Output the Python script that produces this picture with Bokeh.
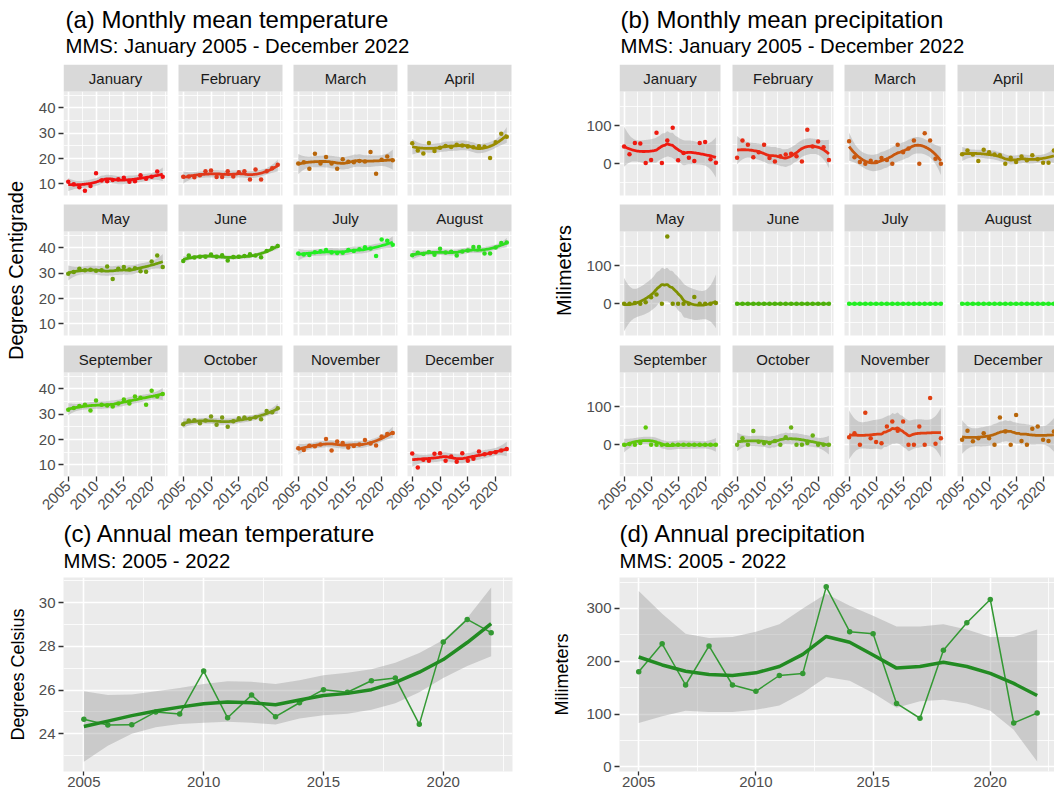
import math
import numpy as np
from bokeh.plotting import figure
from bokeh.models import Range1d, FixedTicker
from bokeh.layouts import row, column
from bokeh.core.properties import value
from bokeh.embed import file_html
from bokeh.resources import INLINE

FONT = "Liberation Sans"

# ---------------- data ----------------
years = list(range(2005, 2023))
months = ["January", "February", "March", "April", "May", "June",
          "July", "August", "September", "October", "November", "December"]

temp_january = [10.8, 9.8, 8.7, 7.3, 9.2, 14.2, 11.3, 11.0, 11.5, 11.8, 12.4, 10.8, 11.0, 13.4, 12.0, 12.8, 14.9, 12.8]
temp_february = [12.8, 12.9, 12.6, 13.4, 15.0, 15.3, 12.7, 12.7, 15.0, 12.9, 14.6, 15.0, 11.7, 15.7, 11.7, 15.0, 16.2, 17.6]
temp_march = [18.0, 18.5, 16.0, 21.9, 18.0, 20.6, 18.0, 16.0, 19.7, 18.7, 18.5, 19.0, 18.8, 22.6, 14.0, 19.5, 20.8, 19.3]
temp_april = [26.0, 23.2, 22.0, 26.1, 23.0, 24.3, 25.0, 24.6, 25.5, 25.2, 24.8, 24.5, 24.9, 24.7, 20.2, 26.4, 29.8, 28.6]
temp_may = [29.8, 30.5, 31.8, 31.2, 31.4, 31.0, 31.2, 32.7, 27.7, 31.8, 32.5, 31.5, 32.0, 30.8, 30.6, 34.6, 37.0, 32.5]
temp_june = [34.8, 37.0, 36.2, 36.5, 36.5, 37.4, 36.5, 37.1, 35.0, 36.4, 36.5, 36.8, 37.5, 37.0, 36.3, 38.8, 40.0, 40.8]
temp_july = [37.8, 37.4, 37.2, 38.3, 38.7, 39.2, 38.2, 38.0, 38.1, 39.2, 38.8, 39.5, 40.3, 39.8, 36.8, 43.3, 42.8, 41.3]
temp_august = [37.1, 38.1, 37.6, 38.4, 37.3, 39.7, 38.2, 38.5, 37.0, 38.6, 39.0, 40.4, 40.4, 37.8, 37.8, 40.2, 42.0, 42.2]
temp_september = [31.8, 32.5, 33.3, 33.8, 31.5, 35.4, 33.8, 33.5, 33.1, 34.2, 35.8, 34.2, 37.0, 36.5, 33.8, 39.3, 37.0, 38.0]
temp_october = [26.0, 27.5, 27.6, 26.4, 27.5, 29.1, 25.9, 28.7, 25.1, 27.2, 28.4, 28.7, 28.2, 28.8, 28.0, 31.3, 30.8, 32.4]
temp_november = [16.6, 15.9, 17.6, 17.4, 18.0, 20.2, 15.7, 19.2, 18.6, 16.9, 17.5, 18.0, 19.8, 18.4, 17.7, 21.2, 22.2, 22.6]
temp_december = [14.5, 9.0, 12.0, 11.6, 14.4, 14.6, 11.6, 13.3, 11.2, 14.6, 11.6, 12.4, 15.3, 14.2, 14.6, 15.0, 15.7, 16.3]

precip_january = [45, 25, 54, 53, 2, 10, 81, 2, 61, 94, 9, 28, 16, 7, 54, 57, 12, 3]
precip_february = [16, 61, 50, 17, 30, 50, 15, 6, 20, 24, 26, 20, 6, 89, 45, 58, 43, 10]
precip_march = [59, 17, 5, 0, 8, 5, 15, 10, 0, 50, 30, 40, 61, 0, 80, 61, 13, 0]
precip_april = [25, 35, 24, 7, 37, 30, 24, 22, 0, 16, 5, 19, 9, 22, 12, 3, 3, 35]
precip_may = [0, 0, 2, 0, 4, 17, 24, 0, 176, 0, 0, 0, 0, 18, 0, 0, 0, 2]
precip_june = [0] * 18
precip_july = [0] * 18
precip_august = [0] * 18
precip_september = [0, 2, 0, 5, 45, 0, 0, 0, 0, 0, 0, 0, 0, 0, 0, 0, 0, 0]
precip_october = [0, 17, 0, 36, 8, 4, 5, 10, 0, 20, 45, 0, 0, 5, 24, 0, 0, 0]
precip_november = [20, 30, 0, 84, 17, 7, 4, 48, 61, 37, 61, 0, 0, 48, 0, 122, 3, 17]
precip_december = [13, 37, 9, 17, 30, 17, 0, 71, 35, 0, 78, 10, 0, 42, 48, 13, 10, 35]

annual_temp = [24.66, 24.40, 24.41, 25.00, 24.90, 26.87, 24.73, 25.77, 24.78, 25.42,
               26.02, 25.90, 26.43, 26.56, 24.43, 28.21, 29.24, 28.63]
annual_temp_smooth = [24.33, 24.58, 24.83, 25.04, 25.22, 25.37, 25.45, 25.42, 25.33, 25.55,
                      25.75, 25.85, 26.02, 26.35, 26.82, 27.40, 28.18, 29.05]
annual_temp_lower = [22.72, 23.45, 24.00, 24.30, 24.45, 24.50, 24.55, 24.50, 24.42, 24.70,
                     24.85, 24.92, 25.10, 25.40, 25.90, 26.55, 27.10, 27.55]
annual_temp_upper = [25.95, 25.78, 25.80, 25.95, 26.10, 26.28, 26.40, 26.38, 26.28, 26.45,
                     26.68, 26.80, 26.95, 27.25, 27.70, 28.30, 29.30, 30.70]

annual_precip = [180, 233, 155, 229, 155, 143, 173, 177, 341, 256, 252, 120, 92, 221, 273, 317, 83, 102]
annual_precip_smooth = [208, 193, 181, 175, 173, 178, 190, 213, 247, 236, 212, 187, 190, 198, 190, 177, 158, 135]
annual_precip_lower = [83, 96, 106, 104, 104, 108, 116, 140, 170, 163, 140, 112, 124, 127, 120, 106, 70, 10]
annual_precip_upper = [333, 290, 252, 244, 246, 256, 270, 300, 328, 305, 286, 266, 266, 270, 260, 246, 246, 260]

temp_series = [temp_january, temp_february, temp_march, temp_april, temp_may, temp_june,
               temp_july, temp_august, temp_september, temp_october, temp_november, temp_december]
precip_series = [precip_january, precip_february, precip_march, precip_april, precip_may, precip_june,
                 precip_july, precip_august, precip_september, precip_october, precip_november, precip_december]

temp_colors = ["#F01010", "#E0381A", "#B8660A", "#9A8C00", "#6E9E0A", "#4CB00A",
               "#22EE22", "#30DD20", "#55C80A", "#7C9A14", "#D05A14", "#F01A10"]
precip_colors = ["#EE1A10", "#E82A14", "#C8580F", "#9A8A00", "#7E9000", "#4CB00A",
                 "#22EE22", "#22EE22", "#5EC80A", "#6AB014", "#E04012", "#B8660A"]


# ---------------- loess smoother (like geom_smooth) ----------------
def loess(x, y, xs, span=0.75):
    x = np.asarray(x, float)
    y = np.asarray(y, float)
    n = len(x)
    q = max(int(np.floor(n * span)), 4)

    def row_l(x0):
        d = np.abs(x - x0)
        h = max(np.sort(d)[q - 1], 1e-9)
        w = np.clip(1 - (d / h) ** 3, 0, None) ** 3
        X = np.vstack([np.ones(n), x - x0, (x - x0) ** 2]).T
        A = X.T @ (w[:, None] * X)
        B = np.linalg.pinv(A) @ (X.T * w)
        return B[0]

    L = np.array([row_l(xi) for xi in x])
    fitted = L @ y
    M = (np.eye(n) - L).T @ (np.eye(n) - L)
    d1 = np.trace(M)
    d2 = np.trace(M @ M)
    sigma = math.sqrt(max(np.sum((y - fitted) ** 2), 0) / d1)
    df = d1 ** 2 / d2
    z = 1.959964
    t = z + (z ** 3 + z) / (4 * df) + (5 * z ** 5 + 16 * z ** 3 + 3 * z) / (96 * df ** 2)
    Ls = np.array([row_l(x0) for x0 in xs])
    fit = Ls @ y
    se = sigma * np.sqrt(np.sum(Ls ** 2, axis=1))
    return fit, fit - t * se, fit + t * se


XT_MAJOR = [2005, 2010, 2015, 2020]
XT_MINOR = [2002.5, 2007.5, 2012.5, 2017.5, 2022.5]
X_LO, X_HI = 2004.15, 2022.85


def style_grid(p, xticker, yticker):
    p.xgrid.ticker = xticker
    p.ygrid.ticker = yticker
    for g in (p.xgrid, p.ygrid):
        g.grid_line_color = "white"
        g.grid_line_width = 1.6
        g.minor_grid_line_color = "white"
        g.minor_grid_line_width = 0.8


def style_axis(ax, size="15px"):
    ax.axis_line_color = None
    ax.major_tick_line_color = "#333333"
    ax.major_tick_line_width = 1.3
    ax.major_tick_out = 5
    ax.major_tick_in = 0
    ax.minor_tick_line_color = None
    ax.major_label_text_font = FONT
    ax.major_label_text_font_size = size
    ax.major_label_text_color = "#4D4D4D"
    ax.major_label_standoff = 3
    ax.axis_label_text_font = FONT
    ax.axis_label_text_font_style = "normal"
    ax.axis_label_text_color = "black"


def facet_block(series, colors, width, left, right, col_left_px, panel_w, yr,
                yt_major, yt_minor, ylabel, label_standoff):
    """Faceted small multiples (3 rows x 4 columns) in one plot, facet_wrap style."""
    frame_w = width - left - right
    frame_h = 412
    strip_h, panel_h = 27, 104
    row_top_px = [0, 140, 281]
    upp_x = (X_HI - X_LO) / panel_w
    y0, y1 = yr
    upp_y = (y1 - y0) / panel_h
    xoff = [lp * upp_x for lp in col_left_px]
    yoff = [(frame_h - t - strip_h - panel_h) * upp_y for t in row_top_px]

    p = figure(width=width, height=frame_h + 44,
               x_range=Range1d(X_LO, X_LO + frame_w * upp_x),
               y_range=Range1d(y0, y0 + frame_h * upp_y),
               output_backend="svg", toolbar_location=None,
               min_border_left=left, min_border_right=right,
               min_border_top=0, min_border_bottom=44,
               background_fill_color="white", border_fill_color="white",
               outline_line_color=None)

    xt_major = [yy + xoff[c] for c in range(4) for yy in XT_MAJOR]
    xt_minor = [yy + xoff[c] for c in range(4) for yy in XT_MINOR]
    x_labels = {t: str(yy) for c in range(4) for yy, t in zip(XT_MAJOR, [v + xoff[c] for v in XT_MAJOR])}
    yt_maj = [v + yoff[r] for r in range(3) for v in yt_major]
    yt_min = [v + yoff[r] for r in range(3) for v in yt_minor]
    y_labels = {t: str(v) for r in range(3) for v, t in zip(yt_major, [u + yoff[r] for u in yt_major])}

    xt = FixedTicker(ticks=xt_major, minor_ticks=xt_minor)
    yt = FixedTicker(ticks=yt_maj, minor_ticks=yt_min)
    style_grid(p, xt, yt)
    p.xaxis.ticker = xt
    p.yaxis.ticker = yt
    p.xaxis.major_label_overrides = x_labels
    p.yaxis.major_label_overrides = y_labels
    style_axis(p.xaxis[0])
    style_axis(p.yaxis[0])
    p.xaxis.major_label_orientation = math.pi / 4
    p.xaxis.major_label_standoff = 2
    p.yaxis.axis_label = ylabel
    p.yaxis.axis_label_text_font_size = "20px"
    p.yaxis.axis_label_standoff = label_standoff

    xs = np.linspace(years[0], years[-1], 90)
    for r in range(3):
        for c in range(4):
            m = r * 4 + c
            vals = series[m]
            col = colors[m]
            xo, yo = xoff[c], yoff[r]
            # panel background
            p.quad(left=[X_LO + xo], right=[X_HI + xo], bottom=[y0 + yo], top=[y1 + yo],
                   fill_color="#EBEBEB", line_color=None, level="image")
            fit, lo, hi = loess(years, vals, xs)
            p.varea(x=xs + xo, y1=lo + yo, y2=hi + yo, fill_color="#999999", fill_alpha=0.4)
            p.scatter([yy + xo for yy in years], [v + yo for v in vals], size=4.5,
                      color=col, line_color=None)
            p.line(xs + xo, fit + yo, line_width=2.8, color=col)
            # strip
            st0 = y1 + yo
            st1 = st0 + strip_h * upp_y
            p.quad(left=[X_LO + xo], right=[X_HI + xo], bottom=[st0], top=[st1],
                   fill_color="#D9D9D9", line_color=None)
            p.text(x=[(X_LO + X_HI) / 2 + xo], y=[(st0 + st1) / 2], text=[months[m]],
                   text_align="center", text_baseline="middle",
                   text_font=value(FONT), text_font_size="15px", text_color="#1A1A1A")
    return p


def text_fig(w, h, items):
    p = figure(width=w, height=h, x_range=Range1d(0, w), y_range=Range1d(0, h),
               x_axis_location=None, y_axis_location=None, output_backend="svg",
               toolbar_location=None, min_border=0, outline_line_color=None,
               background_fill_color="white", border_fill_color="white")
    p.grid.visible = False
    for (x, y, txt, size) in items:
        p.text(x=[x], y=[h - y], text=[txt], text_align="left", text_baseline="middle",
               text_font=value(FONT), text_font_size=size, text_color="black")
    return p


figA = facet_block(temp_series, temp_colors, 530, 63, 18, [0, 115, 230, 344], 104,
                   (5.4, 46.5), [10, 20, 30, 40], [15, 25, 35, 45], "Degrees Centigrade", 9)
figB = facet_block(precip_series, precip_colors, 524, 89, 0, [0, 113, 225, 338], 101,
                   (-82.8, 188.8), [0, 100], [-50, 50, 150], "Milimeters", 8)


# ---------------- (c) and (d) ----------------
def annual_fig(w, left, right, xr, yr, ytm, ytn, vals, smooth, lower, upper, ylabel, standoff):
    p = figure(width=w, height=216, x_range=Range1d(*xr), y_range=Range1d(*yr),
               output_backend="svg", toolbar_location=None,
               min_border_left=left, min_border_right=right, min_border_top=0, min_border_bottom=22,
               background_fill_color="#EBEBEB", border_fill_color="white", outline_line_color=None)
    xt = FixedTicker(ticks=XT_MAJOR, minor_ticks=XT_MINOR)
    yt = FixedTicker(ticks=ytm, minor_ticks=ytn)
    style_grid(p, xt, yt)
    p.xaxis.ticker = xt
    p.yaxis.ticker = yt
    style_axis(p.xaxis[0])
    style_axis(p.yaxis[0])
    p.xaxis.major_label_standoff = 1
    p.xaxis.major_tick_out = 4
    p.yaxis.axis_label = ylabel
    p.yaxis.axis_label_text_font_size = "18px"
    p.yaxis.axis_label_standoff = standoff
    p.varea(x=years, y1=lower, y2=upper, fill_color="#999999", fill_alpha=0.4)
    p.line(years, vals, line_width=1.5, color="#339933")
    p.scatter(years, vals, size=5.5, color="#339933", line_color=None)
    p.line(years, smooth, line_width=3.5, color="#228B22")
    return p


figC = annual_fig(530, 63, 18, (2004.15, 2022.89), (22.27, 31.16), [24, 26, 28, 30], [23, 25, 27, 29, 31],
                  annual_temp, annual_temp_smooth, annual_temp_lower, annual_temp_upper,
                  "Degrees Celsius", 8)
figD = annual_fig(524, 89, 0, (2004.18, 2022.74), (-8.9, 358.7), [0, 100, 200, 300], [50, 150, 250, 350],
                  annual_precip, annual_precip_smooth, annual_precip_lower, annual_precip_upper,
                  "Milimeters", 11)

headTop = text_fig(1054, 64, [(65, 19, "(a) Monthly mean temperature", "24px"),
                              (65, 45, "MMS: January 2005 - December 2022", "20.3px"),
                              (620, 19, "(b) Monthly mean precipitation", "24px"),
                              (620, 45, "MMS: January 2005 - December 2022", "20.3px")])
headBottom = text_fig(1054, 57, [(63, 13, "(c) Annual mean temperature", "24px"),
                                 (63, 40, "MMS: 2005 - 2022", "20.3px"),
                                 (619, 13, "(d) Annual precipitation", "24px"),
                                 (619, 40, "MMS: 2005 - 2022", "20.3px")])

page = column(headTop, row(figA, figB), headBottom, row(figC, figD))

open("out.html", "w").write(file_html(page, INLINE))
